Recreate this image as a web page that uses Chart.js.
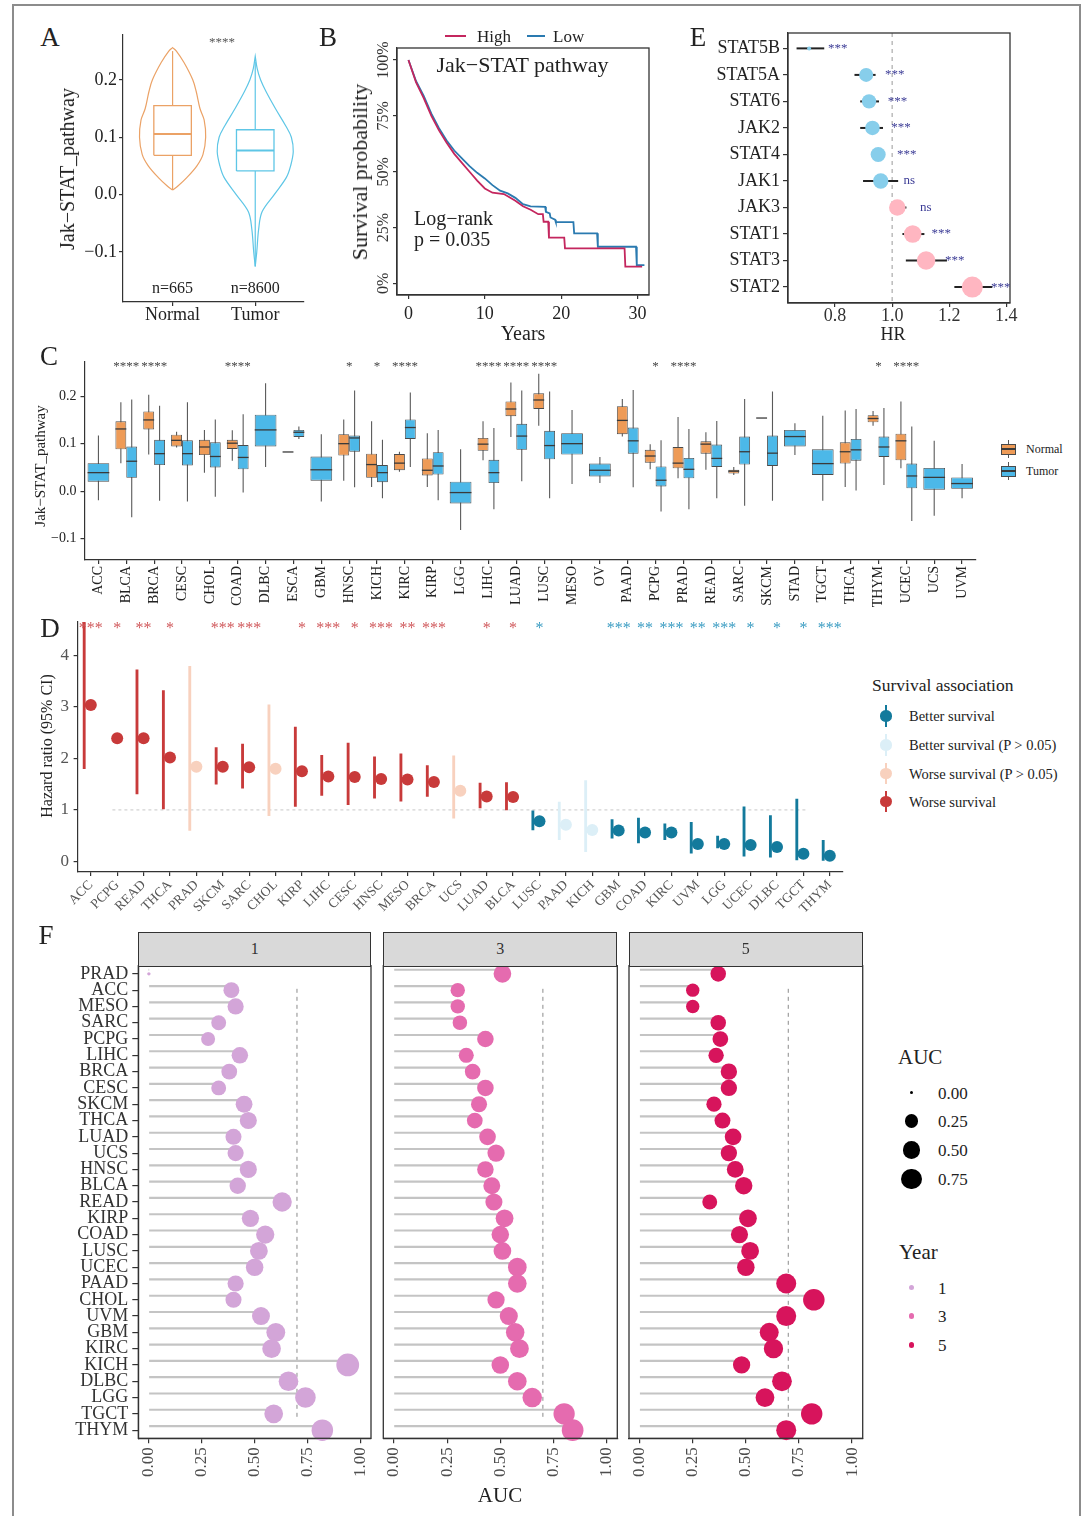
<!DOCTYPE html>
<html>
<head>
<meta charset="utf-8">
<title>Jak-STAT pathway panels</title>
<script src="https://cdn.jsdelivr.net/npm/chart.js@4.4.1/dist/chart.umd.min.js"></script>
<style>
  html, body { margin: 0; padding: 0; background: #fff; }
  #page { position: relative; width: 1086px; height: 1516px; overflow: hidden;
          font-family: "Liberation Serif", "Times New Roman", serif; color: #222; }
  #frame { position: absolute; left: 12px; top: 4px; width: 1069px; height: 1540px;
           border: 2px solid #8c8c8c; box-sizing: border-box; }
  canvas { position: absolute; }
  .t { position: absolute; white-space: nowrap; line-height: 1; }
  .d { position: absolute; box-sizing: border-box; }
</style>
</head>
<body>
<div id="page"><div id="frame"></div></div>
<script>
const SERIF = '"Liberation Serif", "Times New Roman", serif';

// ── A: pathway score, Normal vs Tumor (violin + box) ──
const aGroups = ['Normal', 'Tumor'];
const aCounts = ['n=665', 'n=8600'];
const aLo  = [0.008, -0.125];
const aQ1  = [0.0685, 0.0413];
const aMed = [0.1057, 0.0767];
const aQ3  = [0.155, 0.113];
const aHi  = [0.25, 0.232];
const aYTicks = [-0.1, 0, 0.1, 0.2];
// violin outline: score levels and relative half-width read at each level
const vNormY = [0.008, 0.015, 0.03, 0.05, 0.07, 0.10, 0.13, 0.15, 0.18, 0.20, 0.23, 0.25, 0.256];
const vNormW = [0, 0.14, 0.38, 0.64, 0.80, 0.87, 0.83, 0.72, 0.62, 0.53, 0.30, 0.10, 0];
const vTumY  = [-0.125, -0.1, -0.06, -0.03, 0.0, 0.03, 0.05, 0.075, 0.1, 0.12, 0.15, 0.18, 0.2, 0.22, 0.241];
const vTumW  = [0, 0.04, 0.09, 0.18, 0.50, 0.82, 0.93, 1.0, 0.95, 0.80, 0.53, 0.28, 0.14, 0.05, 0];

// ── B: Kaplan-Meier, High vs Low ──
const bHighT = [0, 1, 2, 3, 4, 5, 6, 7, 8, 9, 10, 11, 12.5, 13, 14, 15, 16, 17, 17.6, 17.7, 18.3, 18.4, 20.4, 20.5, 28.3, 28.4, 30.6];
const bHighS = [100, 90, 83, 75, 68.5, 63, 58, 54, 50, 46, 42.5, 40.6, 40, 39, 37, 34.5, 33, 31, 31, 27.6, 27.6, 20.5, 20.5, 15.7, 15.7, 7.5, 7.5];
const bLowT  = [0, 1, 2, 3, 4, 5, 6, 7, 8, 9, 10, 11, 12, 13, 14, 15, 16, 17.9, 18.0, 18.5, 18.6, 19.2, 19.3, 21.6, 21.7, 24.7, 24.8, 29.8, 29.9, 30.9];
const bLowS  = [100, 90.5, 84, 76, 69.5, 64, 59.5, 56, 52.5, 49.5, 47, 44, 41.5, 40.3, 38.3, 35.5, 34.5, 34.3, 32, 31.3, 29.5, 28.5, 27.4, 27.4, 22.4, 22.4, 16.4, 16.4, 8.2, 8.2];
const bXTicks = [0, 10, 20, 30];
const bYTicks = [0, 25, 50, 75, 100];

// ── E: gene hazard ratios ──
const eGenes = ['STAT5B', 'STAT5A', 'STAT6', 'JAK2', 'STAT4', 'JAK1', 'JAK3', 'STAT1', 'STAT3', 'STAT2'];
const eHR  = [0.709, 0.909, 0.919, 0.931, 0.951, 0.960, 1.018, 1.072, 1.119, 1.281];
const eLo  = [0.665, 0.868, 0.888, 0.888, 0.935, 0.898, 1.004, 1.036, 1.048, 1.218];
const eHi  = [0.762, 0.942, 0.954, 0.968, 0.967, 1.021, 1.050, 1.113, 1.192, 1.351];
const eSig = ['***', '***', '***', '***', '***', 'ns', 'ns', '***', '***', '***'];
const eXTicks = [0.8, 1.0, 1.2, 1.4];

// ── C: pan-cancer boxplots ──
const cCats = ['ACC', 'BLCA', 'BRCA', 'CESC', 'CHOL', 'COAD', 'DLBC', 'ESCA', 'GBM', 'HNSC', 'KICH', 'KIRC', 'KIRP', 'LGG', 'LIHC', 'LUAD',
               'LUSC', 'MESO', 'OV', 'PAAD', 'PCPG', 'PRAD', 'READ', 'SARC', 'SKCM', 'STAD', 'TGCT', 'THCA', 'THYM', 'UCEC', 'UCS', 'UVM'];
const cNormLo  = [null, 0.059, 0.077, 0.092, 0.039, 0.064, null, 0.0825, null, 0.022, 0.009, 0.041, 0.009, null, 0.065, 0.114,
                  0.138, null, null, 0.115, 0.046, 0.027, 0.045, 0.034, 0.154, null, null, 0.009, 0.138, 0.048, null, null];
const cNormQ1  = [null, 0.088, 0.130, 0.094, 0.076, 0.089, null, 0.0825, null, 0.075, 0.028, 0.044, 0.033, null, 0.085, 0.158,
                  0.173, null, null, 0.120, 0.060, 0.048, 0.079, 0.037, 0.154, null, null, 0.058, 0.145, 0.065, null, null];
const cNormMed = [null, 0.131, 0.150, 0.107, 0.093, 0.101, null, 0.0825, null, 0.100, 0.056, 0.059, 0.044, null, 0.099, 0.173,
                  0.192, null, null, 0.149, 0.074, 0.059, 0.099, 0.042, 0.154, null, null, 0.083, 0.153, 0.106, null, null];
const cNormQ3  = [null, 0.147, 0.168, 0.119, 0.108, 0.108, null, 0.0825, null, 0.120, 0.079, 0.078, 0.069, null, 0.112, 0.189,
                  0.206, null, null, 0.179, 0.087, 0.093, 0.105, 0.045, 0.154, null, null, 0.103, 0.160, 0.121, null, null];
const cNormHi  = [null, 0.187, 0.203, 0.125, 0.129, 0.128, null, 0.0825, null, 0.151, 0.147, 0.083, 0.122, null, 0.147, 0.229,
                  0.247, null, null, 0.194, 0.099, 0.156, 0.124, 0.051, 0.154, null, null, 0.170, 0.169, 0.189, null, null];
const cTumLo   = [-0.019, -0.055, -0.020, -0.022, -0.012, -0.003, 0.051, 0.110, -0.022, 0.008, -0.015, 0.051, -0.019, -0.082, -0.038, 0.021,
                  -0.015, 0.015, 0.017, 0.008, -0.043, -0.038, -0.015, -0.031, -0.020, 0.076, -0.020, 0.000, 0.013, -0.063, -0.052, -0.015];
const cTumQ1   = [0.020, 0.028, 0.055, 0.054, 0.050, 0.046, 0.094, 0.114, 0.022, 0.083, 0.019, 0.110, 0.035, -0.026, 0.017, 0.087,
                  0.067, 0.077, 0.031, 0.079, 0.010, 0.027, 0.051, 0.056, 0.053, 0.094, 0.034, 0.064, 0.072, 0.006, 0.003, 0.005];
const cTumMed  = [0.039, 0.063, 0.079, 0.079, 0.073, 0.071, 0.129, 0.124, 0.045, 0.112, 0.039, 0.134, 0.053, -0.003, 0.039, 0.116,
                  0.096, 0.100, 0.044, 0.106, 0.023, 0.046, 0.069, 0.083, 0.080, 0.115, 0.058, 0.087, 0.093, 0.032, 0.029, 0.016];
const cTumQ3   = [0.059, 0.094, 0.108, 0.107, 0.103, 0.097, 0.161, 0.129, 0.073, 0.117, 0.055, 0.151, 0.082, 0.020, 0.066, 0.142,
                  0.127, 0.122, 0.058, 0.134, 0.052, 0.070, 0.098, 0.115, 0.117, 0.129, 0.088, 0.110, 0.115, 0.058, 0.049, 0.029];
const cTumHi   = [0.117, 0.193, 0.180, 0.187, 0.151, 0.162, 0.227, 0.136, 0.120, 0.212, 0.108, 0.208, 0.129, 0.088, 0.133, 0.212,
                  0.210, 0.171, 0.072, 0.213, 0.107, 0.131, 0.148, 0.194, 0.210, 0.143, 0.159, 0.173, 0.175, 0.136, 0.106, 0.057];
const cStars = ['', '****', '****', '', '', '****', '', '', '', '*', '*', '****', '', '', '****', '****',
                '****', '', '', '', '*', '****', '', '', '', '', '', '', '*', '****', '', ''];
const cYTicks = [-0.1, 0, 0.1, 0.2];

// ── D: pan-cancer hazard ratios (PCPG has no visible interval) ──
const dCats = ['ACC', 'PCPG', 'READ', 'THCA', 'PRAD', 'SKCM', 'SARC', 'CHOL', 'KIRP', 'LIHC', 'CESC', 'HNSC', 'MESO', 'BRCA', 'UCS',
               'LUAD', 'BLCA', 'LUSC', 'PAAD', 'KICH', 'GBM', 'COAD', 'KIRC', 'UVM', 'LGG', 'UCEC', 'DLBC', 'TGCT', 'THYM'];
const dHR = [3.04, 2.39, 2.39, 2.02, 1.84, 1.84, 1.83, 1.80, 1.75, 1.65, 1.64, 1.60, 1.59, 1.54, 1.37,
             1.26, 1.25, 0.78, 0.71, 0.61, 0.60, 0.56, 0.56, 0.34, 0.34, 0.32, 0.28, 0.15, 0.11];
const dLo = [1.80, null, 1.31, 1.02, 0.60, 1.50, 1.42, 0.89, 1.07, 1.28, 1.10, 1.23, 1.17, 1.26, 0.84,
             1.04, 1.00, 0.61, 0.42, 0.19, 0.45, 0.36, 0.42, 0.16, 0.26, 0.10, 0.08, 0.03, 0.02];
const dHi = [4.80, null, 3.72, 3.32, 3.79, 2.21, 2.28, 3.04, 2.61, 2.06, 2.30, 2.03, 2.09, 1.86, 2.05,
             1.52, 1.53, 0.98, 1.15, 1.57, 0.81, 0.84, 0.73, 0.76, 0.49, 1.06, 0.89, 1.21, 0.41];
const dGroup = ['worse', 'worse', 'worse', 'worse', 'worseNS', 'worse', 'worse', 'worseNS', 'worse', 'worse', 'worse', 'worse', 'worse', 'worse', 'worseNS',
                'worse', 'worse', 'better', 'betterNS', 'betterNS', 'better', 'better', 'better', 'better', 'better', 'better', 'better', 'better', 'better'];
const dStars = ['***', '*', '**', '*', '', '***', '***', '', '*', '***', '*', '***', '**', '***', '',
                '*', '*', '*', '', '', '***', '**', '***', '**', '***', '*', '*', '*', '***'];
const dYTicks = [0, 1, 2, 3, 4];
const dLegendGroups = ['better', 'betterNS', 'worseNS', 'worse'];
const dLegendText = ['Better survival', 'Better survival (P > 0.05)', 'Worse survival (P > 0.05)', 'Worse survival'];

// ── F: time-dependent AUC by year ──
const fCats = ['PRAD', 'ACC', 'MESO', 'SARC', 'PCPG', 'LIHC', 'BRCA', 'CESC', 'SKCM', 'THCA', 'LUAD', 'UCS', 'HNSC', 'BLCA', 'READ',
               'KIRP', 'COAD', 'LUSC', 'UCEC', 'PAAD', 'CHOL', 'UVM', 'GBM', 'KIRC', 'KICH', 'DLBC', 'LGG', 'TGCT', 'THYM'];
const fAuc1 = [0.00, 0.39, 0.41, 0.33, 0.28, 0.43, 0.38, 0.33, 0.45, 0.47, 0.40, 0.41, 0.47, 0.42, 0.63,
               0.48, 0.55, 0.52, 0.50, 0.41, 0.40, 0.53, 0.60, 0.58, 0.94, 0.66, 0.74, 0.59, 0.82];
const fAuc3 = [0.51, 0.30, 0.30, 0.31, 0.43, 0.34, 0.37, 0.43, 0.40, 0.38, 0.44, 0.48, 0.43, 0.46, 0.47,
               0.52, 0.50, 0.51, 0.58, 0.58, 0.48, 0.54, 0.57, 0.59, 0.50, 0.58, 0.65, 0.80, 0.84];
const fAuc5 = [0.37, 0.25, 0.25, 0.37, 0.38, 0.36, 0.42, 0.42, 0.35, 0.39, 0.44, 0.42, 0.45, 0.49, 0.33,
               0.51, 0.47, 0.52, 0.50, 0.69, 0.82, 0.69, 0.61, 0.63, 0.48, 0.67, 0.59, 0.81, 0.69];
const fYears = ['1', '3', '5'];
const fXTicks = [0, 0.25, 0.5, 0.75, 1];
const fSizeKeys = [0, 0.25, 0.5, 0.75];
const fCutoff = 0.7;

// ── Colours ──
const HIGH = '#C4265E', LOW = '#2A7AB0';
const A_COL = ['#EBA266', '#5EC6E6'];
const C_NORMAL = '#EE9B57', C_TUMOR = '#4CB8E8';
const D_COL = { worse: '#C83A3A', worseNS: '#F8D1BE', better: '#137A9C', betterNS: '#DCEFF7' };
const D_STAR = { worse: '#D0585B', better: '#3A9CC2' };
const F_COL = ['#D3A5D8', '#E56BAF', '#D7145C'];

Chart.defaults.font.family = SERIF;
Chart.defaults.animation = false;
Chart.defaults.responsive = false;
Chart.defaults.events = [];
Chart.defaults.plugins.legend.display = false;
Chart.defaults.plugins.tooltip.enabled = false;

const page = document.getElementById('page');

// ── DOM helpers ──
function canvasAt(left, top, width, height) {
  const c = document.createElement('canvas');
  c.width = width; c.height = height;
  Object.assign(c.style, { left: left + 'px', top: top + 'px', width: width + 'px', height: height + 'px' });
  page.appendChild(c);
  return c;
}

function label(str, x, y, size, o = {}) {
  const el = document.createElement('div');
  el.className = 't';
  el.textContent = str;
  const ax = o.anchor === 'left' ? '0' : '-50%';
  Object.assign(el.style, {
    left: x + 'px', top: y + 'px', fontSize: size + 'px', color: o.color || '#222',
    transform: `translate(${ax}, -50%)` + (o.rotate ? ` rotate(${o.rotate}deg)` : ''),
  });
  page.appendChild(el);
}

function block(x, y, w, h, css) {
  const el = document.createElement('div');
  el.className = 'd';
  Object.assign(el.style, { left: x + 'px', top: y + 'px', width: w + 'px', height: h + 'px' }, css);
  page.appendChild(el);
}

function dot(x, y, r, color) {
  block(x - r, y - r, 2 * r, 2 * r, { background: color, borderRadius: '50%' });
}

// ── Chart helpers ──
function mkAxis(o) {
  const sc = {
    type: o.type || 'linear',
    display: o.display !== false,
    offset: !!o.offset,
    reverse: !!o.reverse,
    border: { display: true, color: '#333', width: 1.2 },
    grid: { display: true, drawOnChartArea: false, drawTicks: true, tickLength: o.tick ?? 4,
            color: '#333', lineWidth: 1.2, offset: false },
    ticks: { display: o.showLabels !== false, font: { size: o.size || 14, family: SERIF, lineHeight: 1 },
             color: o.color || '#333', padding: o.pad ?? 2, autoSkip: false,
             minRotation: o.rot || 0, maxRotation: o.rot || 0 },
  };
  if (o.min !== undefined) sc.min = o.min;
  if (o.max !== undefined) sc.max = o.max;
  if (o.stacked !== undefined) sc.stacked = o.stacked;
  if (o.labels) sc.labels = o.labels;
  if (o.values) sc.afterBuildTicks = s => { s.ticks = o.values.map(v => ({ value: v })); };
  if (o.format) sc.ticks.callback = o.format;
  sc.afterFit = s => {
    if (o.w !== undefined) s.width = o.w;
    if (o.h !== undefined) s.height = o.h;
    s.paddingLeft = 0; s.paddingRight = 0; s.paddingTop = 0; s.paddingBottom = 0;
  };
  return sc;
}

function hidden(axis, min, max) {
  return { type: 'linear', axis, display: false, min, max };
}

function pad(left, top, right, bottom) {
  return { autoPadding: false, padding: { left, top, right, bottom } };
}

const framePlugin = {
  id: 'panelFrame',
  afterDatasetsDraw(chart) {
    const { ctx, chartArea: a } = chart;
    ctx.save();
    ctx.strokeStyle = '#333';
    ctx.lineWidth = 1.3;
    ctx.strokeRect(a.left, a.top, a.right - a.left, a.bottom - a.top);
    ctx.restore();
  },
};

function textLayer(id, draw) {
  return { id, afterDatasetsDraw: draw };
}

const minus = s => s.replace('-', '\u2212');

// ── Panel A ──
(function drawA() {
  const cv = canvasAt(70, 25, 244, 305);
  const violinHalf = 0.46, boxHalf = 0.227;
  const outlines = [[vNormY, vNormW], [vTumY, vTumW]];
  const ds = [];
  aGroups.forEach((g, i) => {
    const c = i + 1, col = A_COL[i];
    const [vy, vw] = outlines[i];
    const line = (data, w, extra) => Object.assign(
      { data, showLine: true, borderColor: col, borderWidth: w, pointRadius: 0, fill: false, tension: 0 }, extra);
    const right = vy.map((y, k) => ({ x: c + vw[k] * violinHalf, y }));
    const left = vy.map((y, k) => ({ x: c - vw[k] * violinHalf, y })).reverse();
    ds.push(line(right.concat(left), 1.2, { tension: 0.35 }));
    ds.push(line([{ x: c, y: aQ3[i] }, { x: c, y: aHi[i] }], 1.2));
    ds.push(line([{ x: c, y: aQ1[i] }, { x: c, y: aLo[i] }], 1.2));
    ds.push(line([{ x: c - boxHalf, y: aQ1[i] }, { x: c + boxHalf, y: aQ1[i] }, { x: c + boxHalf, y: aQ3[i] },
                  { x: c - boxHalf, y: aQ3[i] }, { x: c - boxHalf, y: aQ1[i] }], 1.3));
    ds.push(line([{ x: c - boxHalf, y: aMed[i] }, { x: c + boxHalf, y: aMed[i] }], 2));
  });
  const counts = textLayer('aCounts', chart => {
    const { ctx } = chart;
    ctx.save();
    ctx.font = `16px ${SERIF}`; ctx.fillStyle = '#222';
    ctx.textAlign = 'center'; ctx.textBaseline = 'middle';
    aCounts.forEach((n, i) => ctx.fillText(n, chart.scales.x.getPixelForValue(i + 1), chart.scales.y.getPixelForValue(-0.164)));
    ctx.restore();
  });
  new Chart(cv, {
    type: 'scatter',
    data: { datasets: ds },
    plugins: [counts],
    options: {
      layout: pad(0, 10, 10, 0),
      scales: {
        x: mkAxis({ min: 0.4, max: 2.59, values: [1, 2], format: v => aGroups[v - 1], size: 18, pad: 0, h: 28, color: '#222' }),
        y: mkAxis({ min: -0.187, max: 0.278, values: aYTicks, format: v => minus(v.toFixed(1)), size: 18, pad: 2, w: 53, color: '#222' }),
      },
    },
  });
  label('A', 50, 37, 27);
  label('****', 222, 41, 13, { color: '#555' });
  label('Jak\u2212STAT_pathway', 67, 169, 20, { rotate: -90 });
})();

// ── Panel B ──
(function drawB() {
  const cv = canvasAt(370, 40, 286, 285);
  const km = (T, S, col) => ({
    data: T.map((t, i) => ({ x: t, y: S[i] })), showLine: true, borderColor: col,
    borderWidth: 1.8, pointRadius: 0, tension: 0,
  });
  const yLabels = textLayer('bYLabels', chart => {
    const { ctx } = chart, ys = chart.scales.y;
    ctx.save();
    ctx.font = `16px ${SERIF}`; ctx.fillStyle = '#333';
    ctx.textAlign = 'center'; ctx.textBaseline = 'middle';
    bYTicks.forEach(v => {
      ctx.save();
      ctx.translate(ys.right - 13, ys.getPixelForValue(v));
      ctx.rotate(-Math.PI / 2);
      ctx.fillText(v + '%', 0, 0);
      ctx.restore();
    });
    ctx.restore();
  });
  new Chart(cv, {
    type: 'scatter',
    data: { datasets: [km(bHighT, bHighS, HIGH), km(bLowT, bLowS, LOW)] },
    plugins: [framePlugin, yLabels],
    options: {
      layout: pad(0, 8, 7, 0),
      scales: {
        x: mkAxis({ min: -1.5, max: 31.5, values: bXTicks, format: v => String(v), size: 18, pad: 6, h: 30, color: '#222' }),
        y: mkAxis({ min: -5.2, max: 105.4, values: bYTicks, showLabels: false, w: 27 }),
      },
    },
  });
  label('B', 328, 37, 27);
  block(444.5, 35.2, 21.5, 1.8, { background: HIGH });
  label('High', 477, 36, 17, { anchor: 'left' });
  block(527, 35.2, 17.5, 1.8, { background: LOW });
  label('Low', 553, 36, 17, { anchor: 'left' });
  label('Jak\u2212STAT pathway', 522.5, 65, 22);
  label('Log\u2212rank', 414, 218, 20, { anchor: 'left' });
  label('p = 0.035', 414, 239, 20, { anchor: 'left' });
  label('Survival probability', 360, 172, 22, { rotate: -90 });
  label('Years', 523, 333, 20);
})();

// ── Panel E ──
(function drawE() {
  const cv = canvasAt(705, 25, 313, 303);
  const hrMin = Math.min(...eHR), hrMax = Math.max(...eHR);
  const radius = h => 2 + 8.5 * Math.sqrt((h - hrMin) / (hrMax - hrMin));
  const ds = [{
    data: eHR.map((h, i) => ({ x: h, y: i })),
    pointRadius: eHR.map(radius),
    pointBackgroundColor: eHR.map(h => (h < 1 ? '#87CEEB' : '#FFB6C1')),
    pointBorderWidth: 0, order: 0,
  }];
  eGenes.forEach((g, i) => ds.push({
    data: [{ x: eLo[i], y: i }, { x: eHi[i], y: i }], showLine: true,
    borderColor: '#222', borderWidth: 2, pointRadius: 0, order: 1,
  }));
  ds.push({
    data: [{ x: 1, y: -0.58 }, { x: 1, y: 9.6 }], showLine: true, borderColor: '#AAAAAA',
    borderDash: [4, 4], borderWidth: 1.2, pointRadius: 0, order: 2,
  });
  const sig = textLayer('eSig', chart => {
    const { ctx } = chart;
    ctx.save();
    ctx.font = `13px ${SERIF}`; ctx.fillStyle = '#3C3C96';
    ctx.textAlign = 'center'; ctx.textBaseline = 'middle';
    eSig.forEach((s, i) => ctx.fillText(s, chart.scales.x.getPixelForValue(eHR[i] + 0.1), chart.scales.y.getPixelForValue(i)));
    ctx.restore();
  });
  new Chart(cv, {
    type: 'scatter',
    data: { datasets: ds },
    plugins: [framePlugin, sig],
    options: {
      layout: pad(0, 8, 8, 0),
      scales: {
        x: mkAxis({ min: 0.635, max: 1.413, values: eXTicks, format: v => v.toFixed(1), size: 18, pad: 0, h: 25, color: '#333' }),
        y: mkAxis({ min: -0.58, max: 9.6, reverse: true, values: eGenes.map((g, i) => i), format: v => eGenes[v],
                    size: 18, tick: 5, pad: 3, w: 83, color: '#222' }),
      },
    },
  });
  label('E', 698, 37, 27);
  label('HR', 893, 334, 18);
})();

// ── Panel C ──
(function drawC() {
  const cv = canvasAt(50, 352, 935, 258);
  const range = (lo, hi) => lo.map((v, i) => (v == null ? null : [v, hi[i]]));
  // boxes and whiskers of one group share a stack, so they sit in the same slot
  const box = (lo, hi, col, stack) => ({
    type: 'bar', data: range(lo, hi), stack, backgroundColor: col, borderColor: '#4a4a4a',
    borderWidth: 0.9, borderSkipped: false, barPercentage: 1, categoryPercentage: 0.78, skipNull: true,
  });
  const whisker = (lo, hi, stack) => ({
    type: 'bar', data: range(lo, hi), stack, backgroundColor: '#5a5a5a',
    barPercentage: 1, categoryPercentage: 0.78, maxBarThickness: 1.1, skipNull: true,
  });
  const medians = textLayer('cMedians', chart => {
    const { ctx } = chart, ys = chart.scales.y;
    ctx.save();
    ctx.strokeStyle = '#3a3a3a'; ctx.lineWidth = 1.3;
    [cNormMed, cTumMed].forEach((med, d) => {
      chart.getDatasetMeta(d).data.forEach((bar, i) => {
        if (med[i] == null) return;
        const py = ys.getPixelForValue(med[i]);
        ctx.beginPath();
        ctx.moveTo(bar.x - bar.width / 2, py);
        ctx.lineTo(bar.x + bar.width / 2, py);
        ctx.stroke();
      });
    });
    ctx.font = `13px ${SERIF}`; ctx.fillStyle = '#444';
    ctx.textAlign = 'center'; ctx.textBaseline = 'middle';
    cStars.forEach((s, i) => { if (s) ctx.fillText(s, chart.scales.x.getPixelForValue(i), ys.getPixelForValue(0.262)); });
    ctx.restore();
  });
  new Chart(cv, {
    type: 'bar',
    data: {
      labels: cCats,
      datasets: [box(cNormQ1, cNormQ3, C_NORMAL, 'N'), box(cTumQ1, cTumQ3, C_TUMOR, 'T'),
                 whisker(cNormLo, cNormHi, 'N'), whisker(cTumLo, cTumHi, 'T')],
    },
    plugins: [medians],
    options: {
      layout: pad(0, 10, 9, 0),
      scales: {
        x: mkAxis({ type: 'category', offset: true, stacked: true, labels: cCats, rot: 90, size: 14, pad: 2, h: 50, color: '#222' }),
        y: mkAxis({ min: -0.145, max: 0.272, stacked: false, values: cYTicks, format: v => minus(v.toFixed(1)),
                    size: 14, pad: 4, w: 34.5, color: '#222' }),
      },
    },
  });
  label('C', 49, 356, 27);
  label('Jak\u2212STAT_pathway', 40, 466, 15, { rotate: -90 });
  [['Normal', C_NORMAL, 449], ['Tumor', C_TUMOR, 471]].forEach(([name, col, y]) => {
    block(1008.2, y - 9, 1, 18, { background: '#555' });
    block(1000.9, y - 5.5, 15.6, 11, { background: col, border: '0.9px solid #4a4a4a' });
    block(1000.9, y - 0.6, 15.6, 1.2, { background: '#3a3a3a' });
    label(name, 1026, y, 12, { anchor: 'left' });
  });
})();

// ── Panel D ──
(function drawD() {
  const cv = canvasAt(55, 612, 795, 300);
  const colors = dGroup.map(g => D_COL[g]);
  const stars = textLayer('dStars', chart => {
    const { ctx } = chart;
    ctx.save();
    ctx.font = `16px ${SERIF}`;
    ctx.textAlign = 'center'; ctx.textBaseline = 'middle';
    dStars.forEach((s, i) => {
      if (!s) return;
      ctx.fillStyle = D_STAR[dGroup[i]];
      ctx.fillText(s, chart.scales.x.getPixelForValue(i), chart.scales.y.getPixelForValue(4.52));
    });
    ctx.restore();
  });
  new Chart(cv, {
    type: 'bar',
    data: {
      labels: dCats,
      datasets: [
        { type: 'line', data: dHR, showLine: false, pointRadius: 6, pointBackgroundColor: colors, pointBorderWidth: 0, order: 0 },
        { type: 'bar', data: dLo.map((l, i) => (l == null ? null : [l, dHi[i]])), backgroundColor: colors,
          barPercentage: 1, categoryPercentage: 1, maxBarThickness: 2.2, order: 1 },
        { type: 'line', xAxisID: 'xr', data: [{ x: 0, y: 1 }, { x: 1, y: 1 }], borderColor: '#C8C8C8',
          borderDash: [3, 3], borderWidth: 1, pointRadius: 0, order: 2 },
      ],
    },
    plugins: [stars],
    options: {
      layout: pad(0, 10, 7, 0),
      scales: {
        x: mkAxis({ type: 'category', offset: true, labels: dCats, rot: 45, size: 13.5, pad: 2, h: 40, color: '#555' }),
        xr: hidden('x', 0, 1),
        y: mkAxis({ min: -0.206, max: 4.65, values: dYTicks, format: v => String(v), size: 17, pad: 4.5, w: 22.6, color: '#555' }),
      },
    },
  });
  label('D', 50, 628, 27);
  label('Hazard ratio (95% CI)', 46.5, 746, 16, { rotate: -90 });
  label('Survival association', 872, 686, 17.5, { anchor: 'left' });
  [716, 745, 773.7, 801.7].forEach((y, k) => {
    const col = D_COL[dLegendGroups[k]];
    block(885, y - 10.8, 2, 21.6, { background: col });
    dot(886, y, 5.6, col);
    label(dLegendText[k], 909, y, 14.5, { anchor: 'left' });
  });
})();

// ── Panel F ──
const aucRadius = a => 1.7 + 10 * Math.sqrt(a);

function drawF(left, width, padLeft, padRight, auc, col, showY) {
  const cv = canvasAt(left, 960, width, 530);
  const yAxis = showY
    ? mkAxis({ type: 'category', offset: true, labels: fCats, size: 18, tick: 6, pad: 4, w: 108.3, color: '#333' })
    : { type: 'category', display: false, offset: true, labels: fCats };
  new Chart(cv, {
    type: 'bar',
    data: {
      labels: fCats,
      datasets: [
        { type: 'line', data: auc, showLine: false, pointRadius: auc.map(aucRadius),
          pointBackgroundColor: col, pointBorderWidth: 0, order: 0 },
        { type: 'bar', data: auc, backgroundColor: '#C4C4C4', barPercentage: 1, categoryPercentage: 1,
          maxBarThickness: 1.5, order: 1 },
        { type: 'line', yAxisID: 'yr', data: [{ x: fCutoff, y: 0 }, { x: fCutoff, y: 1 }], borderColor: '#A6A6A6',
          borderDash: [4, 4], borderWidth: 1.3, pointRadius: 0, order: 2 },
      ],
    },
    plugins: [framePlugin],
    options: {
      indexAxis: 'y',
      layout: pad(padLeft, 5.7, padRight, 0),
      scales: {
        x: mkAxis({ min: -0.05, max: 1.05, values: fXTicks, format: v => v.toFixed(2), rot: 90, size: 17,
                    tick: 5, pad: 4, h: 51.7, color: '#4d4d4d' }),
        y: yAxis,
        yr: hidden('y', 0, 1),
      },
    },
  });
}

drawF(30, 343, 0, 2, fAuc1, F_COL[0], true);
drawF(378, 241, 5.3, 1.7, fAuc3, F_COL[1], false);
drawF(624, 241, 5, 2.3, fAuc5, F_COL[2], false);

[[138.3, 232.7], [383.3, 234], [629, 233.7]].forEach(([x, w], k) => {
  block(x, 931.7, w, 35, { background: '#D9D9D9', border: '1.3px solid #333' });
  label(fYears[k], x + w / 2, 949, 16, { color: '#333' });
});
label('F', 46, 935, 27);
label('AUC', 500, 1495, 21);

label('AUC', 898, 1057, 21, { anchor: 'left' });
[1092.7, 1121, 1150, 1179].forEach((y, k) => {
  dot(911.7, y, aucRadius(fSizeKeys[k]), '#000');
  label(fSizeKeys[k].toFixed(2), 938, y, 17, { anchor: 'left' });
});
label('Year', 899, 1251.7, 21, { anchor: 'left' });
[1287.7, 1316, 1345].forEach((y, k) => {
  dot(911.7, y, 2.7, F_COL[k]);
  label(fYears[k], 938, y, 17, { anchor: 'left' });
});
</script>
</body>
</html>
